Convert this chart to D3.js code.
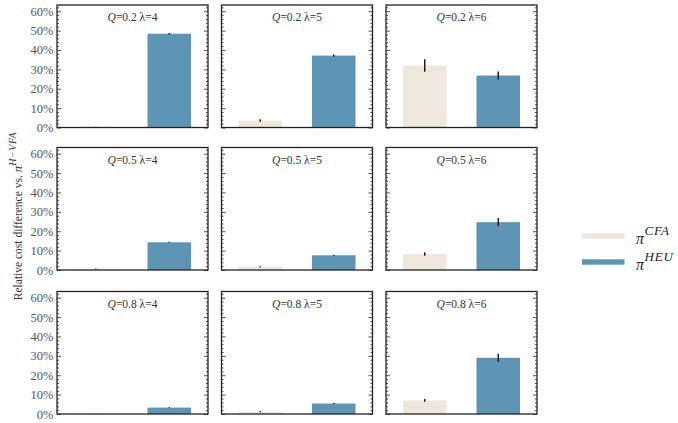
<!DOCTYPE html>
<html>
<head>
<meta charset="utf-8">
<script src="https://cdn.jsdelivr.net/npm/d3@7"></script>
<style>
  html, body { margin: 0; padding: 0; background: #fff; }
  svg { display: block; font-family: "Liberation Serif", "DejaVu Serif", serif; }
</style>
</head>
<body>
<svg id="chart" width="678" height="423"></svg>
<script>
// Grid of experiments: rows are Q values, columns are lambda values
const qValues = ["0.2", "0.5", "0.8"];
const lambdaValues = ["4", "5", "6"];
const policies = ["CFA", "HEU"];

// Mean relative cost difference (%) per row (Q) and column (lambda)
const cfaValues = [
  [0.3, 3.6, 32.0],
  [0.6, 1.6, 8.2],
  [0.2, 1.2, 7.0]
];
const heuValues = [
  [48.4, 37.1, 26.8],
  [14.3, 7.6, 24.7],
  [3.3, 5.4, 29.0]
];
// Half-width of the error bars (%)
const cfaErrors = [
  [0.1, 0.6, 3.2],
  [0.2, 0.3, 0.9],
  [0.1, 0.3, 0.7]
];
const heuErrors = [
  [0.4, 0.5, 2.1],
  [0.3, 0.3, 2.1],
  [0.2, 0.3, 2.1]
];
const yTicks = [0, 10, 20, 30, 40, 50, 60];
const yMax = 63.2;

const colors = { CFA: "#eee8dc", HEU: "#5f95b4" };

const svg = d3.select("#chart");

const colLefts = [57, 221.5, 386];
const rowTops = [5, 147.5, 291.5];
const panelW = 151;
const panelH = 122.5;

const x = d3.scaleBand().domain(policies).range([0, panelW])
  .paddingInner(0.408).paddingOuter(0.231);
const y = d3.scaleLinear().domain([0, yMax]).range([panelH, 0]);

qValues.forEach((q, r) => {
  lambdaValues.forEach((lam, c) => {
    const g = svg.append("g").attr("transform", `translate(${colLefts[c]},${rowTops[r]})`);
    const rows = [
      { p: "CFA", v: cfaValues[r][c], e: cfaErrors[r][c] },
      { p: "HEU", v: heuValues[r][c], e: heuErrors[r][c] }
    ];

    g.selectAll("rect.bar").data(rows).join("rect")
      .attr("class", "bar")
      .attr("x", d => x(d.p))
      .attr("width", x.bandwidth())
      .attr("y", d => y(d.v))
      .attr("height", d => y(0) - y(d.v))
      .attr("fill", d => colors[d.p]);

    g.selectAll("line.err").data(rows).join("line")
      .attr("class", "err")
      .attr("x1", d => x(d.p) + x.bandwidth() / 2)
      .attr("x2", d => x(d.p) + x.bandwidth() / 2)
      .attr("y1", d => y(d.v + d.e))
      .attr("y2", d => y(Math.max(0, d.v - d.e)))
      .attr("stroke", "#111").attr("stroke-width", 1.4);

    // Inward ticks on the left and right spines (major every 10%, minor every 2%)
    const minor = d3.range(0, yMax, 2).filter(v => v % 10 !== 0);
    const left = g.append("g").call(d3.axisLeft(y).tickValues(yTicks)
      .tickFormat(c === 0 ? (d => d + "%") : "").tickSize(-4).tickPadding(3.5));
    const leftMinor = g.append("g").call(d3.axisLeft(y).tickValues(minor).tickFormat("").tickSize(-2));
    const right = g.append("g").attr("transform", `translate(${panelW},0)`)
      .call(d3.axisRight(y).tickValues(yTicks).tickFormat("").tickSize(-4));
    const rightMinor = g.append("g").attr("transform", `translate(${panelW},0)`)
      .call(d3.axisRight(y).tickValues(minor).tickFormat("").tickSize(-2));
    [left, leftMinor, right, rightMinor].forEach(a => {
      a.select(".domain").remove();
      a.selectAll("line").attr("stroke", "#222").attr("stroke-width", 0.8);
    });
    left.selectAll("text")
      .attr("font-family", "'Liberation Serif', serif")
      .attr("font-size", 12.5).attr("fill", "#555");

    g.append("rect")
      .attr("x", 0).attr("y", 0).attr("width", panelW).attr("height", panelH)
      .attr("fill", "none").attr("stroke", "#222").attr("stroke-width", 1.3);

    const t = g.append("text")
      .attr("x", panelW / 2).attr("y", 16)
      .attr("text-anchor", "middle")
      .attr("font-size", 11.5).attr("fill", "#333");
    t.append("tspan").attr("font-style", "italic").text("Q");
    t.append("tspan").text(`=${q}  λ=${lam}`);
  });
});

// Shared y-axis title
const yTitle = svg.append("text")
  .attr("transform", "translate(22,216) rotate(-90)")
  .attr("text-anchor", "middle")
  .attr("font-size", 11.5).attr("fill", "#333");
yTitle.append("tspan").text("Relative cost difference vs. ");
yTitle.append("tspan").attr("font-style", "italic").attr("font-size", 13).text("π");
yTitle.append("tspan").attr("font-style", "italic").attr("font-size", 10)
  .attr("letter-spacing", 0.6).attr("dy", -6).text("H−VFA");

// Legend
const legend = svg.append("g").attr("transform", "translate(582,0)");
const legendY = d3.scalePoint().domain(policies).range([236, 262]);
policies.forEach(p => {
  legend.append("rect")
    .attr("x", 0).attr("y", legendY(p) - 2.7)
    .attr("width", 42.5).attr("height", 5.4)
    .attr("fill", colors[p]);
  const lt = legend.append("text")
    .attr("x", 54).attr("y", legendY(p) + 8)
    .attr("fill", "#222");
  lt.append("tspan").attr("font-style", "italic").attr("font-size", 16).text("π");
  lt.append("tspan").attr("font-style", "italic").attr("font-size", 13)
    .attr("letter-spacing", 0.8).attr("dx", 0.5).attr("dy", -9).text(p);
});
</script>
</body>
</html>
